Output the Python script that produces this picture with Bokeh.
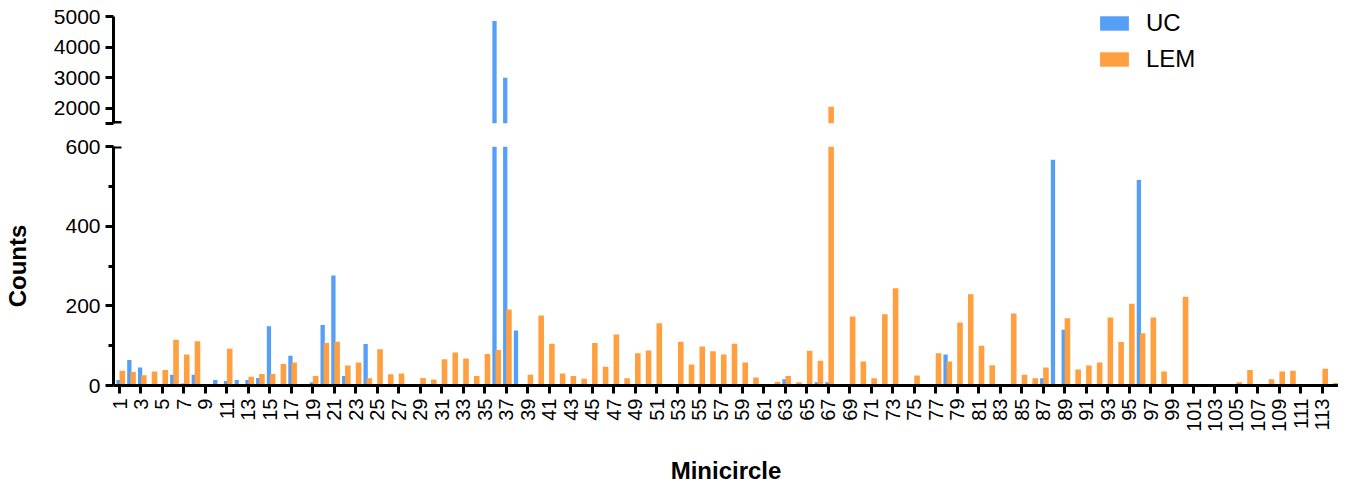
import math
from bokeh.plotting import figure
from bokeh.models import (ColumnDataSource, FixedTicker, Range1d, Legend, LegendItem,
                          CDSView, BooleanFilter)
from bokeh.layouts import column
from bokeh.transform import dodge
from bokeh.embed import file_html
from bokeh.resources import INLINE

# ---------------- data ----------------
minicircle = list(range(1, 115))
uc = [14, 64, 45, 0, 0, 27, 5, 27, 0, 14,
      11, 14, 14, 19, 149, 0, 75, 0, 8, 152,
      276, 24, 0, 104, 0, 0, 0, 0, 0, 0,
      0, 0, 0, 0, 0, 4850, 3000, 138, 0, 0,
      0, 0, 0, 0, 0, 0, 0, 0, 0, 0,
      0, 0, 0, 0, 0, 0, 0, 0, 0, 0,
      0, 0, 16, 0, 0, 8, 8, 0, 0, 0,
      0, 0, 0, 0, 0, 0, 0, 78, 0, 0,
      0, 0, 0, 0, 0, 0, 18, 567, 140, 0,
      0, 0, 0, 0, 0, 516, 0, 0, 0, 0,
      0, 0, 0, 0, 0, 0, 0, 0, 0, 0,
      0, 0, 0, 0]
lem = [37, 34, 26, 35, 39, 115, 78, 111, 0, 0,
       92, 0, 22, 29, 29, 54, 58, 0, 24, 107,
       110, 50, 58, 18, 91, 28, 30, 0, 19, 15,
       66, 83, 68, 24, 79, 89, 191, 0, 27, 176,
       105, 30, 24, 17, 107, 47, 128, 18, 81, 88,
       156, 0, 110, 53, 98, 86, 78, 105, 58, 20,
       0, 9, 24, 8, 87, 62, 2050, 0, 173, 60,
       18, 179, 244, 0, 25, 0, 81, 60, 158, 229,
       100, 51, 0, 181, 27, 18, 45, 0, 169, 40,
       50, 58, 171, 109, 205, 131, 171, 35, 0, 223,
       0, 0, 0, 0, 8, 39, 0, 16, 35, 37,
       0, 0, 42, 6]
x_ticks = list(range(1, 114, 2))
lower_ticks = [0, 200, 400, 600]
lower_minor = [100, 300, 500]
upper_ticks = [1500, 2000, 3000, 4000, 5000]
series_names = ["UC", "LEM"]

BLUE = "#559FF7"
ORANGE = "#FF9F40"
FONT = "Liberation Sans"
AXW = 3
LOW_MAX = 600
UP_MIN = 1500
UP_MAX = 5000

LEFT = 113
FW = 1225
UP_FH = 123          # frame height of upper panel (axis part is 107 px)
UP_AXIS_PX = 107

src = ColumnDataSource(dict(x=minicircle, uc=uc, lem=lem))
xr = Range1d(0.44, 114.5)


def style_y(ax):
    ax.axis_line_width = AXW
    ax.axis_line_color = "black"
    ax.major_tick_line_width = AXW
    ax.minor_tick_line_width = AXW
    ax.major_tick_out = 8
    ax.major_tick_in = 0
    ax.minor_tick_out = 5
    ax.minor_tick_in = 0
    ax.major_label_text_font = FONT
    ax.major_label_text_font_size = "21px"
    ax.major_label_text_color = "black"
    ax.major_label_standoff = 5


def add_bars(p, bottom, upper=False):
    kw1, kw2 = {}, {}
    if upper:
        kw1["view"] = CDSView(filter=BooleanFilter([v > UP_MIN for v in uc]))
        kw2["view"] = CDSView(filter=BooleanFilter([v > UP_MIN for v in lem]))
    r1 = p.vbar(x=dodge("x", -0.085, range=xr), top="uc", width=0.40, bottom=bottom,
                source=src, fill_color=BLUE, line_color=None, **kw1)
    r2 = p.vbar(x=dodge("x", 0.26, range=xr), top="lem", width=0.52, bottom=bottom,
                source=src, fill_color=ORANGE, line_color=None, **kw2)
    return r1, r2


# ---------------- upper panel ----------------
up_top = UP_MAX + (UP_FH - UP_AXIS_PX) * (UP_MAX - UP_MIN) / UP_AXIS_PX
up = figure(frame_width=FW, frame_height=UP_FH, x_range=xr, y_range=Range1d(UP_MIN, up_top),
            output_backend="svg", toolbar_location=None, x_axis_location=None,
            min_border_left=LEFT, min_border_right=0, min_border_top=0, min_border_bottom=10)
up.outline_line_color = None
up.grid.visible = False
ru1, ru2 = add_bars(up, UP_MIN, upper=True)
style_y(up.yaxis[0])
up.yaxis[0].bounds = (UP_MIN, UP_MAX)
up.yaxis[0].ticker = FixedTicker(ticks=upper_ticks, minor_ticks=[])
up.yaxis[0].major_label_overrides = {1500: ""}
cap_x1 = xr.start + 8 / (FW / (xr.end - xr.start))
up.segment(x0=[xr.start], y0=[UP_MIN + 30], x1=[cap_x1], y1=[UP_MIN + 30],
           line_color="black", line_width=AXW)

legend = Legend(items=[LegendItem(label=series_names[0], renderers=[ru1]),
                       LegendItem(label=series_names[1], renderers=[ru2])],
                location=(983, 50), orientation="vertical",
                glyph_width=36, glyph_height=18, label_standoff=14, spacing=8,
                padding=0, margin=0, border_line_color=None, background_fill_alpha=0,
                label_text_font=FONT, label_text_font_size="24px", label_text_color="black")
up.add_layout(legend)

# ---------------- lower panel ----------------
lo = figure(frame_width=FW, frame_height=239, x_range=xr, y_range=Range1d(0, LOW_MAX),
            output_backend="svg", toolbar_location=None,
            min_border_left=LEFT, min_border_right=0, min_border_top=13, min_border_bottom=97)
lo.outline_line_color = None
lo.grid.visible = False
add_bars(lo, 0)
style_y(lo.yaxis[0])
lo.yaxis[0].ticker = FixedTicker(ticks=lower_ticks, minor_ticks=lower_minor)
lo.yaxis[0].axis_label = "Counts"
lo.yaxis[0].axis_label_text_font = FONT
lo.yaxis[0].axis_label_text_font_size = "24px"
lo.yaxis[0].axis_label_text_font_style = "bold"
lo.yaxis[0].axis_label_text_color = "black"
lo.yaxis[0].axis_label_standoff = 31
lo.segment(x0=[xr.start], y0=[LOW_MAX - 1.2], x1=[cap_x1], y1=[LOW_MAX - 1.2],
           line_color="black", line_width=AXW)

xa = lo.xaxis[0]
xa.ticker = FixedTicker(ticks=x_ticks, minor_ticks=[])
xa.axis_line_width = AXW
xa.axis_line_color = "black"
xa.major_tick_line_width = AXW
xa.major_tick_out = 8
xa.major_tick_in = 0
xa.major_label_orientation = math.pi / 2
xa.major_label_text_font = FONT
xa.major_label_text_font_size = "20px"
xa.major_label_text_color = "black"
xa.major_label_standoff = 5
xa.axis_label = "Minicircle"
xa.axis_label_text_font = FONT
xa.axis_label_text_font_size = "24px"
xa.axis_label_text_font_style = "bold"
xa.axis_label_text_color = "black"
xa.axis_label_standoff = 22

layout = column(up, lo, spacing=0)
open("out.html", "w").write(file_html(layout, INLINE))
